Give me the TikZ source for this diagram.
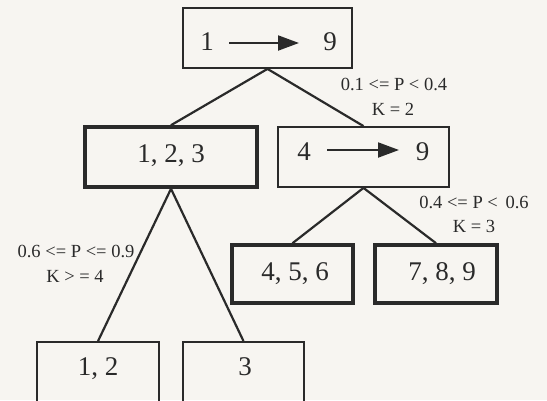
\documentclass[tikz,border=0pt]{standalone}
\usepackage{fontspec}
\setmainfont{Liberation Serif}
\usetikzlibrary{arrows.meta}
\definecolor{ink}{RGB}{42,42,42}
\definecolor{paper}{RGB}{247,245,241}
\begin{document}
\begin{tikzpicture}[x=1pt,y=-1pt,
  thinbox/.style={draw=ink,line width=1.8pt,rectangle,inner sep=0pt},
  thickbox/.style={draw=ink,line width=3.6pt,rectangle,inner sep=0pt},
  boxtext/.style={anchor=base,inner sep=0pt,text=ink,font=\fontsize{27}{30}\selectfont},
  lbl/.style={anchor=base,inner sep=0pt,text=ink,font=\fontsize{18.5}{20}\selectfont},
  conn/.style={draw=ink,line width=2.2pt},
  bigarrow/.style={draw=ink,line width=2pt,-{Triangle[length=21pt,width=15pt]}}
]
\useasboundingbox (0,0) rectangle (547,400);
\clip (0,0) rectangle (547,400);
\fill[paper] (0,0) rectangle (547,400);

% boxes
\node[thinbox, minimum width=169pt, minimum height=60pt] (root) at (267.5,38) {};
\node[thickbox, minimum width=172pt, minimum height=60pt] (n123) at (171,157) {};
\node[thinbox, minimum width=171pt, minimum height=60pt] (n49) at (363.5,157) {};
\node[thickbox, minimum width=121pt, minimum height=58pt] (n456) at (292.5,274) {};
\node[thickbox, minimum width=122pt, minimum height=58pt] (n789) at (436,274) {};
\node[thinbox, minimum width=122pt, minimum height=72pt] (n12) at (98,378) {};
\node[thinbox, minimum width=121pt, minimum height=72pt] (n3) at (243.5,378) {};

% box texts
\node[boxtext] (r1) at (207,50) {1};
\node[boxtext] (r9) at (330,50) {9};
\coordinate (ra) at (229,43);
\coordinate (rb) at (299,43);
\draw[bigarrow] (ra) -- (rb);

\node[boxtext] (m4) at (304,160) {4};
\node[boxtext] (m9) at (422.5,160) {9};
\coordinate (ma) at (327,150);
\coordinate (mb) at (399,150);
\draw[bigarrow] (ma) -- (mb);

\node[boxtext] (t123) at (171,162) {1, 2, 3};
\node[boxtext] (t456) at (295,280) {4, 5, 6};
\node[boxtext] (t789) at (442,280) {7, 8, 9};
\node[boxtext] (t12) at (98,375) {1, 2};
\node[boxtext] (t3) at (245,375) {3};

% connectors
\draw[conn] (root.south) -- (n123.north);
\draw[conn] (root.south) -- (n49.north);
\draw[conn] (n49.south) -- (n456.north);
\draw[conn] (n49.south) -- (n789.north);
\draw[conn] (n123.south) -- (n12.north);
\draw[conn] (n123.south) -- (n3.north);

% labels
\node[lbl] (l1a) at (394,90) {0.1 <= P < 0.4};
\node[lbl] (l1b) at (393,115) {K = 2};
\node[lbl] (l2a) at (474,208) {0.4 <= P <\, 0.6};
\node[lbl] (l2b) at (474,232) {K = 3};
\node[lbl] (l3a) at (76,257) {0.6 <= P <= 0.9};
\node[lbl] (l3b) at (75,282) {K > = 4};
\end{tikzpicture}
\end{document}
